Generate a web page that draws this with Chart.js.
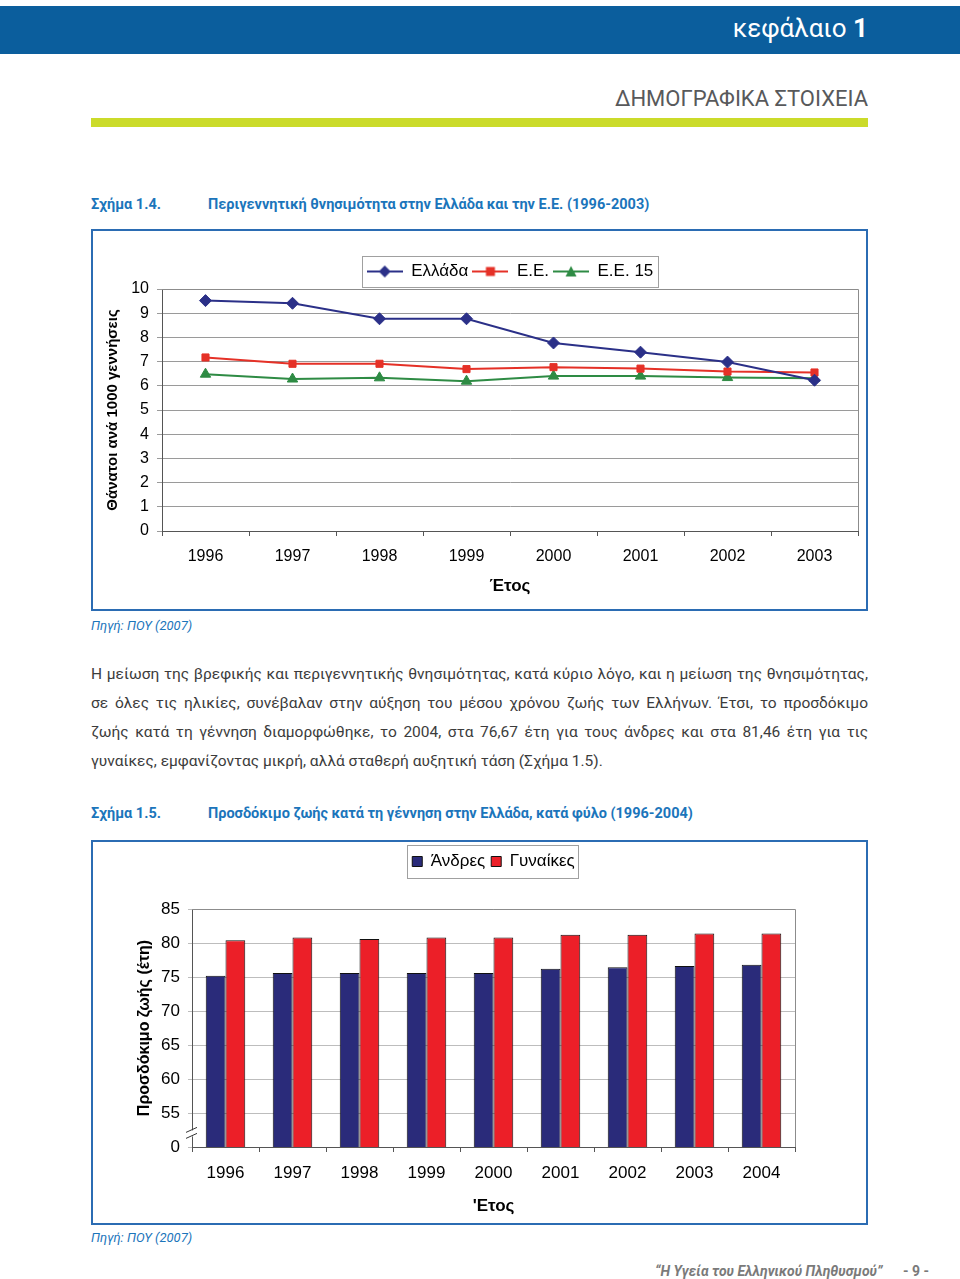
<!DOCTYPE html>
<html>
<head>
<meta charset="utf-8">
<script src="https://cdn.jsdelivr.net/npm/chart.js@4.4.1/dist/chart.umd.min.js"></script>
<style>
  html, body { margin:0; padding:0; background:#fff; }
  body { width:960px; height:1279px; position:relative; overflow:hidden; font-family: Roboto, "Noto Sans", sans-serif; }
  .abs { position:absolute; }
  #hdr { left:0; width:960px; height:48px; background:#0b5e9d; top:6px; }
  #hdrText { right:92px; top:13px; color:#fff; font-size:26px; line-height:30px; white-space:nowrap; }
  #section { right:92px; top:85px; color:#58595b; font-size:22px; line-height:28px; white-space:nowrap; }
  #greenbar { left:91px; top:118px; width:777px; height:9px; background:#cbdb2a; }
  .cap { color:#1b75bb; font-weight:bold; font-size:14.5px; line-height:18px; white-space:nowrap; }
  .box { border:2px solid #2b6cb3; box-sizing:border-box; }
  .src { color:#1b75bb; font-style:italic; font-size:13px; line-height:16px; white-space:nowrap; }
  #para { left:91px; top:660px; width:777px; color:#3c3c3c; font-size:15.5px; line-height:29px; }
  #para div { text-align:justify; text-align-last:justify; }
  #para div.last { text-align-last:left; }
  #footer { left:655px; top:1263px; color:#7a7a7a; font-style:italic; font-weight:bold; font-size:14px; line-height:16px; white-space:nowrap; }
  #pageno { left:903px; top:1263px; color:#7a7a7a; font-weight:bold; font-size:14px; line-height:16px; white-space:nowrap; }
</style>
</head>
<body>
<div id="hdr" class="abs"></div>
<div id="hdrText" class="abs">κεφάλαιο <b>1</b></div>
<div id="section" class="abs">ΔΗΜΟΓΡΑΦΙΚΑ ΣΤΟΙΧΕΙΑ</div>
<div id="greenbar" class="abs"></div>

<div class="abs cap" style="left:91px; top:196px;">Σχήμα 1.4.</div>
<div class="abs cap" style="left:208px; top:196px;">Περιγεννητική θνησιμότητα στην Ελλάδα και την Ε.Ε. (1996-2003)</div>
<div class="abs box" style="left:91px; top:229px; width:777px; height:382px;"></div>
<div class="abs" style="left:93px; top:231px; width:773px; height:378px;"><canvas id="c1" width="773" height="378"></canvas></div>
<div class="abs src" style="left:91px; top:618px;">Πηγή: ΠΟΥ (2007)</div>

<div id="para" class="abs">
  <div>Η μείωση της βρεφικής και περιγεννητικής θνησιμότητας, κατά κύριο λόγο, και η μείωση της θνησιμότητας,</div>
  <div>σε όλες τις ηλικίες, συνέβαλαν στην αύξηση του μέσου χρόνου ζωής των Ελλήνων. Έτσι, το προσδόκιμο</div>
  <div>ζωής κατά τη γέννηση διαμορφώθηκε, το 2004, στα 76,67 έτη για τους άνδρες και στα 81,46 έτη για τις</div>
  <div class="last">γυναίκες, εμφανίζοντας μικρή, αλλά σταθερή αυξητική τάση (Σχήμα 1.5).</div>
</div>

<div class="abs cap" style="left:91px; top:805px;">Σχήμα 1.5.</div>
<div class="abs cap" style="left:208px; top:805px;">Προσδόκιμο ζωής κατά τη γέννηση στην Ελλάδα, κατά φύλο (1996-2004)</div>
<div class="abs box" style="left:91px; top:840px; width:777px; height:385px;"></div>
<div class="abs" style="left:93px; top:842px; width:773px; height:381px;"><canvas id="c2" width="773" height="381"></canvas></div>
<div class="abs src" style="left:91px; top:1230px;">Πηγή: ΠΟΥ (2007)</div>

<div id="footer" class="abs">“Η Υγεία του Ελληνικού Πληθυσμού”</div>
<div id="pageno" class="abs">- 9 -</div>

<script>
// ---------- data ----------
const years1 = ['1996','1997','1998','1999','2000','2001','2002','2003'];
const greece = [9.52, 9.41, 8.77, 8.77, 7.77, 7.39, 6.98, 6.23];
const eu     = [7.17, 6.91, 6.91, 6.69, 6.77, 6.71, 6.59, 6.55];
const eu15   = [6.48, 6.28, 6.33, 6.19, 6.40, 6.40, 6.34, 6.31];
const seriesNames1 = ['Ελλάδα', 'Ε.Ε.', 'Ε.Ε. 15'];

const years2 = ['1996','1997','1998','1999','2000','2001','2002','2003','2004'];
const men    = [75.2, 75.6, 75.6, 75.6, 75.6, 76.2, 76.45, 76.6, 76.8];
const women  = [80.4, 80.8, 80.6, 80.8, 80.8, 81.2, 81.2, 81.4, 81.4];
const seriesNames2 = ['Άνδρες', 'Γυναίκες'];

const FONT = "'Liberation Sans', Arial, sans-serif";
const NAVY = '#2b3088', RED = '#e53127', GREEN = '#2e8b44';

// ---------- shared plugin pieces ----------
function legendFramePlugin(opts) {
  return {
    id: 'legendFrame',
    beforeLayout(chart) {
      const lg = chart.legend;
      if (lg && !lg._patched) {
        const fit = lg.fit;
        lg.fit = function() { fit.call(this); this.height = opts.legendHeight; };
        lg._patched = true;
      }
    },
    afterLayout(chart) {
      const lg = chart.legend, ca = chart.chartArea;
      const dx = (ca.left + ca.right) / 2 - (lg.left + lg.right) / 2;
      const dy = opts.dy || 0;
      lg.left += dx; lg.right += dx;
      lg.top += dy; lg.bottom += dy;
    },
    afterDraw(chart) {
      const lg = chart.legend; const hb = lg.legendHitBoxes;
      if (!hb || !hb.length) return;
      let l = Infinity, r = -Infinity, cy = hb[0].top + hb[0].height / 2;
      hb.forEach(b => { l = Math.min(l, b.left); r = Math.max(r, b.left + b.width); });
      const ctx = chart.ctx;
      ctx.save();
      ctx.strokeStyle = '#a0a0a0'; ctx.lineWidth = 1;
      ctx.strokeRect(Math.round(l - opts.padL) + 0.5, Math.round(cy - opts.halfH) + 0.5,
                     Math.round(r - l + opts.padL + opts.padR), Math.round(opts.halfH * 2));
      ctx.restore();
    }
  };
}
const framePlugin = {
  id: 'plotFrame',
  beforeDatasetsDraw(chart) {
    const {ctx, chartArea: a} = chart;
    ctx.save(); ctx.strokeStyle = '#8c8c8c'; ctx.lineWidth = 1;
    ctx.beginPath();
    ctx.moveTo(a.left, Math.round(a.top) + 0.5);
    ctx.lineTo(Math.round(a.right) + 0.5, Math.round(a.top) + 0.5);
    ctx.lineTo(Math.round(a.right) + 0.5, a.bottom);
    ctx.stroke(); ctx.restore();
  }
};

// ---------- legend icons for chart 1 (line with marker) ----------
function lineIcon(color, style) {
  const c = document.createElement('canvas'); c.width = 36; c.height = 14;
  const x = c.getContext('2d');
  x.strokeStyle = color; x.lineWidth = 2;
  x.beginPath(); x.moveTo(0, 7); x.lineTo(36, 7); x.stroke();
  x.fillStyle = color;
  x.beginPath();
  if (style === 'diamond') { x.moveTo(18, 1); x.lineTo(24, 7); x.lineTo(18, 13); x.lineTo(12, 7); }
  else if (style === 'square') { x.rect(13.5, 2.5, 9, 9); }
  else { x.moveTo(18, 1.5); x.lineTo(23.5, 12); x.lineTo(12.5, 12); }
  x.closePath(); x.fill();
  return c;
}
const icons1 = [lineIcon(NAVY, 'diamond'), lineIcon(RED, 'square'), lineIcon(GREEN, 'triangle')];

// ---------- chart 1 ----------
new Chart(document.getElementById('c1'), {
  type: 'line',
  data: {
    labels: years1,
    datasets: [
      { label: seriesNames1[0], data: greece, borderColor: NAVY, backgroundColor: NAVY, borderWidth: 2,
        pointStyle: 'rectRot', pointRadius: 6, pointBorderWidth: 1, tension: 0 },
      { label: seriesNames1[1], data: eu, borderColor: RED, backgroundColor: RED, borderWidth: 2,
        pointStyle: 'rect', pointRadius: 5, pointBorderWidth: 1, tension: 0 },
      { label: seriesNames1[2], data: eu15, borderColor: GREEN, backgroundColor: GREEN, borderWidth: 2,
        pointStyle: 'triangle', pointRadius: 6, pointBorderWidth: 1, tension: 0 }
    ]
  },
  options: {
    responsive: false, animation: false,
    layout: { padding: { top: 25, right: 8, left: 0, bottom: 0 } },
    plugins: {
      tooltip: { enabled: false },
      legend: {
        position: 'top',
        labels: {
          usePointStyle: true, pointStyleWidth: 36, padding: 4, color: '#000',
          font: { family: FONT, size: 17 },
          generateLabels(chart) {
            const items = Chart.defaults.plugins.legend.labels.generateLabels(chart);
            items.forEach((it, i) => { it.pointStyle = icons1[i]; });
            return items;
          }
        }
      }
    },
    scales: {
      x: {
        offset: true,
        grid: { display: true, drawOnChartArea: false, drawTicks: true, tickLength: 5, color: '#555', offset: true },
        border: { display: true, color: '#555', width: 1 },
        ticks: { color: '#000', font: { family: FONT, size: 16 }, padding: 11, maxRotation: 0 },
        title: { display: true, text: 'Έτος', color: '#000', font: { family: FONT, size: 17, weight: 'bold' }, padding: { top: 0, bottom: 12 } },
        afterFit(s) { s.height = 78; }
      },
      y: {
        min: 0, max: 10,
        ticks: { stepSize: 1, color: '#000', font: { family: FONT, size: 16 }, padding: 8 },
        grid: { color: '#9a9a9a', tickLength: 5, drawTicks: true },
        border: { display: true, color: '#555', width: 1 },
        title: { display: true, text: 'Θάνατοι ανά 1000 γεννήσεις', color: '#000', font: { family: FONT, size: 15, weight: 'bold' }, padding: { top: 11, bottom: 0 } },
        afterFit(s) { s.width = 69; }
      }
    }
  },
  plugins: [legendFramePlugin({ legendHeight: 33, padL: 5, padR: 4, halfH: 15.5, dy: 3 }), framePlugin]
});

// ---------- chart 2 ----------
const breakPlugin = {
  id: 'axisBreak',
  afterDraw(chart) {
    const {ctx} = chart; const y = chart.scales.y.getPixelForValue(52); const x = chart.chartArea.left;
    ctx.save();
    ctx.fillStyle = '#fff'; ctx.fillRect(x - 2, y - 3, 4, 6);
    ctx.strokeStyle = '#333'; ctx.lineWidth = 1;
    ctx.beginPath();
    ctx.moveTo(x - 6, y - 1); ctx.lineTo(x + 5, y - 6);
    ctx.moveTo(x - 6, y + 5); ctx.lineTo(x + 5, y);
    ctx.stroke(); ctx.restore();
  }
};
new Chart(document.getElementById('c2'), {
  type: 'bar',
  data: {
    labels: years2,
    datasets: [
      { label: seriesNames2[0], data: men, backgroundColor: '#2a2b7a', borderColor: '#111', borderWidth: 1,
        categoryPercentage: 0.59, barPercentage: 1 },
      { label: seriesNames2[1], data: women, backgroundColor: '#ec1f28', borderColor: '#111', borderWidth: 1,
        categoryPercentage: 0.59, barPercentage: 1 }
    ]
  },
  options: {
    responsive: false, animation: false,
    layout: { padding: { top: 4, right: 71, left: 0, bottom: 0 } },
    plugins: {
      tooltip: { enabled: false },
      legend: {
        position: 'top',
        labels: { boxWidth: 10, boxHeight: 10, padding: 6, color: '#000', font: { family: FONT, size: 17 } }
      }
    },
    scales: {
      x: {
        offset: true,
        grid: { display: true, drawOnChartArea: false, drawTicks: true, tickLength: 5, color: '#555', offset: true },
        border: { display: true, color: '#555', width: 1 },
        ticks: { color: '#000', font: { family: FONT, size: 17 }, padding: 11, maxRotation: 0 },
        title: { display: true, text: "'Ετος", color: '#000', font: { family: FONT, size: 17, weight: 'bold' }, padding: { top: 0, bottom: 6 } },
        afterFit(s) { s.height = 76; }
      },
      y: {
        min: 50, max: 85,
        ticks: { stepSize: 5, color: '#000', font: { family: FONT, size: 17 }, padding: 8,
                 callback: v => (v === 50 ? '0' : String(v)) },
        grid: { color: '#bdbdbd', tickLength: 4, drawTicks: true },
        border: { display: true, color: '#555', width: 1 },
        title: { display: true, text: 'Προσδόκιμο ζωής (έτη)', color: '#000', font: { family: FONT, size: 16, weight: 'bold' }, padding: { top: 42, bottom: 0 } },
        afterFit(s) { s.width = 99; }
      }
    }
  },
  plugins: [legendFramePlugin({ legendHeight: 63, padL: 5, padR: 4, halfH: 16.5, dy: 1 }), framePlugin, breakPlugin]
});
</script>
</body>
</html>
